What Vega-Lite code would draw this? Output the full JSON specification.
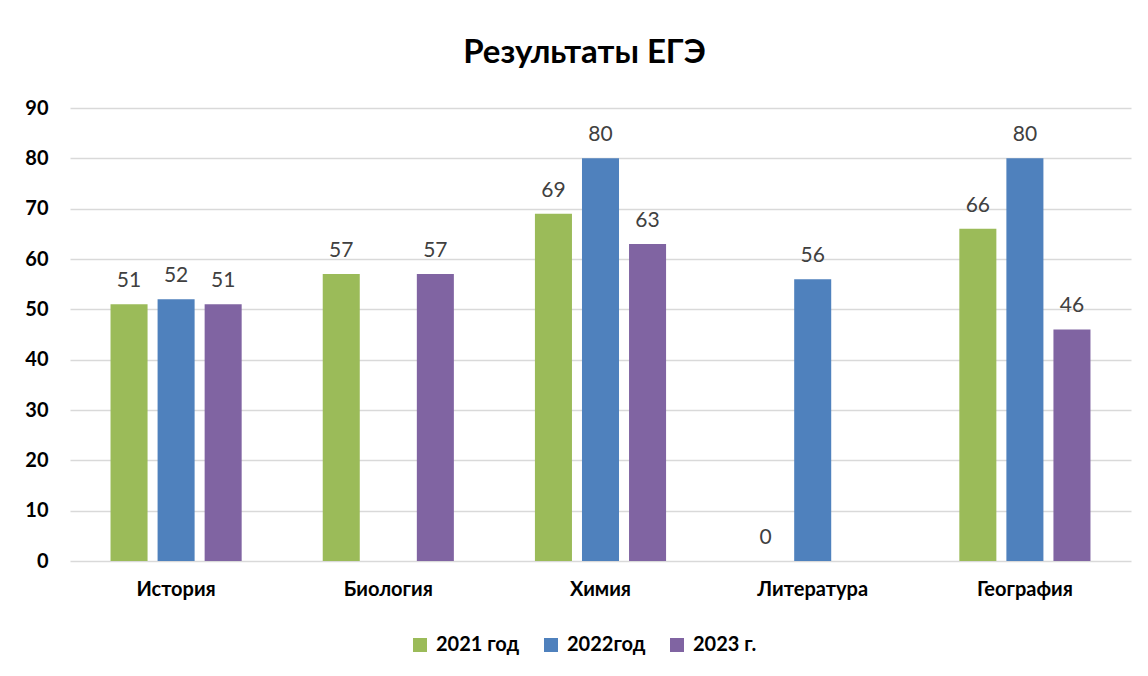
{
  "$schema": "https://vega.github.io/schema/vega-lite/v6.json",
  "autosize": {"type": "none"},
  "width": 1061,
  "height": 453,
  "padding": {"left": 70, "top": 108, "right": 17, "bottom": 115},
  "background": "white",
  "config": {
    "font": "Lato",
    "view": {"stroke": null},
    "axis": {"labelFont": "Lato", "labelFontWeight": "bold", "labelColor": "#000000", "labelFontSize": 20}
  },
  "title": {"text": "Результаты ЕГЭ", "fontSize": 33, "fontWeight": "bold", "font": "Lato", "color": "#000000", "offset": 28, "dx": -16, "anchor": "middle"},
  "data": {
    "values": [
      {"subject": "История", "year": "2021 год", "value": 51},
      {"subject": "История", "year": "2022год", "value": 52},
      {"subject": "История", "year": "2023 г.", "value": 51},
      {"subject": "Биология", "year": "2021 год", "value": 57},
      {"subject": "Биология", "year": "2023 г.", "value": 57},
      {"subject": "Химия", "year": "2021 год", "value": 69},
      {"subject": "Химия", "year": "2022год", "value": 80},
      {"subject": "Химия", "year": "2023 г.", "value": 63},
      {"subject": "Литература", "year": "2021 год", "value": 0},
      {"subject": "Литература", "year": "2022год", "value": 56},
      {"subject": "География", "year": "2021 год", "value": 66},
      {"subject": "География", "year": "2022год", "value": 80},
      {"subject": "География", "year": "2023 г.", "value": 46}
    ]
  },
  "encoding": {
    "x": {
      "field": "subject", "type": "nominal",
      "sort": ["История", "Биология", "Химия", "Литература", "География"],
      "scale": {"paddingInner": 0.335, "paddingOuter": 0.1675},
      "axis": {"title": null, "labelAngle": 0, "domain": false, "ticks": false, "labelPadding": 18}
    },
    "xOffset": {
      "field": "year", "type": "nominal",
      "scale": {"domain": ["2021 год", "2022год", "2023 г."], "paddingInner": 0.213, "paddingOuter": 0.106}
    },
    "y": {
      "field": "value", "type": "quantitative",
      "scale": {"domain": [0, 90], "nice": false},
      "axis": {"title": null, "values": [0, 10, 20, 30, 40, 50, 60, 70, 80, 90], "domain": false, "ticks": false, "labelPadding": 22, "gridColor": "#d9d9d9", "gridWidth": 1.5}
    }
  },
  "layer": [
    {
      "mark": {"type": "bar"},
      "encoding": {
        "color": {
          "field": "year", "type": "nominal",
          "scale": {"domain": ["2021 год", "2022год", "2023 г."], "range": ["#9BBB59", "#4F81BD", "#8064A2"]},
          "legend": {"title": null, "orient": "none", "legendX": 340, "legendY": 527, "direction": "horizontal", "symbolType": "square", "symbolSize": 196, "symbolStrokeWidth": 0, "labelFont": "Lato", "labelFontSize": 20, "labelFontWeight": "bold", "labelColor": "#000000", "labelOffset": 6, "columnPadding": 21}
        }
      }
    },
    {
      "mark": {"type": "text", "baseline": "alphabetic", "dy": -17, "fontSize": 21, "color": "#404040", "font": "Lato"},
      "encoding": {"text": {"field": "value", "type": "quantitative"}}
    }
  ]
}
